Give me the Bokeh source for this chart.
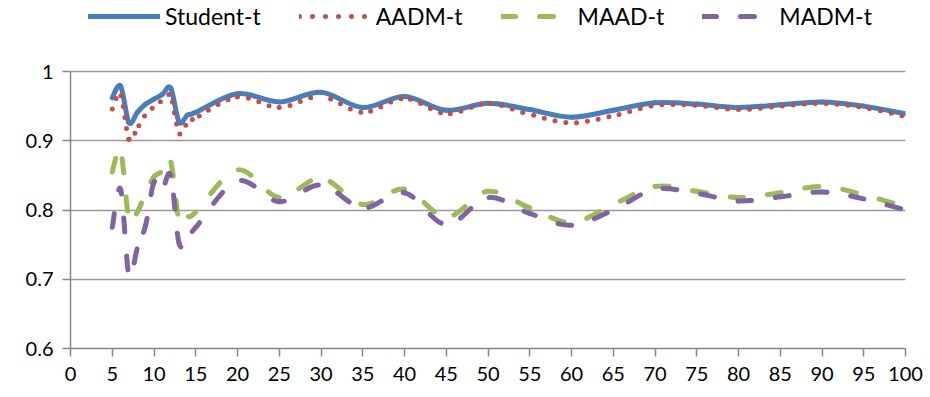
import numpy as np
from bokeh.plotting import figure
from bokeh.models import (Range1d, FixedTicker, NumeralTickFormatter, Legend,
                          LegendItem, ColumnDataSource)
from bokeh.embed import file_html
from bokeh.resources import INLINE

# ---- data ----
x = [5, 6, 7, 8, 9, 10, 11, 12, 13, 14, 15,
     20, 25, 30, 35, 40, 45, 50, 55, 60, 65, 70, 75, 80, 85, 90, 95, 100]
student_t = [0.962, 0.979, 0.926, 0.941, 0.953, 0.960, 0.967, 0.976, 0.927, 0.937, 0.941,
             0.968, 0.956, 0.970, 0.948, 0.964, 0.944, 0.954, 0.945, 0.934, 0.944,
             0.955, 0.953, 0.948, 0.952, 0.956, 0.950, 0.939]
aadm_t = [0.946, 0.966, 0.902, 0.918, 0.938, 0.949, 0.958, 0.964, 0.911, 0.926, 0.933,
          0.963, 0.948, 0.964, 0.941, 0.961, 0.939, 0.954, 0.938, 0.926, 0.936,
          0.951, 0.951, 0.945, 0.950, 0.954, 0.948, 0.935]
maad_t = [0.855, 0.885, 0.787, 0.797, 0.825, 0.848, 0.856, 0.870, 0.785, 0.790, 0.797,
          0.858, 0.818, 0.846, 0.808, 0.830, 0.790, 0.827, 0.803, 0.782, 0.808,
          0.834, 0.827, 0.818, 0.825, 0.834, 0.822, 0.804]
madm_t = [0.775, 0.830, 0.705, 0.745, 0.778, 0.840, 0.830, 0.850, 0.752, 0.760, 0.775,
          0.842, 0.812, 0.836, 0.803, 0.825, 0.779, 0.818, 0.795, 0.778, 0.800,
          0.830, 0.824, 0.813, 0.819, 0.826, 0.816, 0.800]
x_ticks = list(range(0, 101, 5))
y_ticks = [0.6, 0.7, 0.8, 0.9, 1.0]

W, H = 930, 397
BL, BR, BB = 70, 25, 49
TOP_1 = 71            # canvas row of the value 1.0
FONT = "Lato"

frame_h = H - BB
px_per_unit = (frame_h - TOP_1) / 0.4
y_top = 0.6 + frame_h / px_per_unit   # extra room above 1.0 holds the legend

p = figure(width=W, height=H, output_backend="svg", toolbar_location=None,
           x_range=Range1d(0, 100), y_range=Range1d(0.6, y_top),
           min_border_left=BL, min_border_right=BR, min_border_top=0,
           min_border_bottom=BB)
p.outline_line_color = None
p.background_fill_color = "white"
p.border_fill_color = "white"

# screen scales used only for dash continuity along smoothed segments
sx = (W - BL - BR) / 100.0
sy = px_per_unit


def smooth_source(xs, ys, period):
    P = np.column_stack([np.asarray(xs, float), np.asarray(ys, float)])
    n = len(P)
    d = dict(x0=[], y0=[], x1=[], y1=[], cx0=[], cy0=[], cx1=[], cy1=[], off=[])
    total = 0.0
    for i in range(n - 1):
        pp = P[i - 1] if i > 0 else P[i]
        pn = P[i + 2] if i + 2 < n else P[i + 1]
        c0 = P[i] + (P[i + 1] - pp) / 6.0
        c1 = P[i + 1] - (pn - P[i]) / 6.0
        d["x0"].append(P[i][0]); d["y0"].append(P[i][1])
        d["x1"].append(P[i + 1][0]); d["y1"].append(P[i + 1][1])
        d["cx0"].append(c0[0]); d["cy0"].append(c0[1])
        d["cx1"].append(c1[0]); d["cy1"].append(c1[1])
        d["off"].append(int(round(total % period)) if period else 0)
        pts = [P[i], c0, c1, P[i + 1]]
        scr = [np.array([q[0] * sx, q[1] * sy]) for q in pts]
        chord = np.linalg.norm(scr[3] - scr[0])
        poly = sum(np.linalg.norm(scr[k + 1] - scr[k]) for k in range(3))
        total += (chord + poly) / 2.0
    return ColumnDataSource(d)


series = [
    ("Student-t", student_t, "#4A7EBB", "solid", 0),
    ("AADM-t", aadm_t, "#C0504D", "0 11", 11),
    ("MAAD-t", maad_t, "#9BBB59", "14 24", 38),
    ("MADM-t", madm_t, "#8064A2", "14 24", 38),
]

items = []
for name, ys, color, dash, period in series:
    src = smooth_source(x, ys, period)
    kw = dict(line_color=color, line_width=5, line_cap="round", line_join="round")
    if dash != "solid":
        p.bezier(x0="x0", y0="y0", x1="x1", y1="y1", cx0="cx0", cy0="cy0",
                 cx1="cx1", cy1="cy1", source=src, line_dash=dash,
                 line_dash_offset="off", **kw)
    else:
        p.bezier(x0="x0", y0="y0", x1="x1", y1="y1", cx0="cx0", cy0="cy0",
                 cx1="cx1", cy1="cy1", source=src, **kw)
    # legend-only renderer (no drawable points)
    dummy = p.line(x=[float("nan")], y=[float("nan")],
                   line_dash=("0 13" if period == 11 else dash), **kw)
    items.append(LegendItem(label=name, renderers=[dummy]))

legend = Legend(items=items, orientation="horizontal",
                location=(18, frame_h - 30),
                padding=0, spacing=38, glyph_width=72, glyph_height=22,
                label_standoff=5, label_text_font=FONT,
                label_text_font_size="23px", label_text_color="#000000",
                background_fill_alpha=0, border_line_color=None,
                click_policy="none")
p.add_layout(legend)

# axes
for ax in (p.xaxis[0], p.yaxis[0]):
    ax.axis_line_color = "#868686"
    ax.axis_line_width = 1.5
    ax.major_tick_line_color = "#868686"
    ax.major_tick_line_width = 1.5
    ax.major_tick_out = 8
    ax.major_tick_in = 0
    ax.minor_tick_line_color = None
    ax.major_label_text_font = FONT
    ax.major_label_text_font_size = "20px"
    ax.major_label_text_color = "#000000"

p.xaxis.ticker = FixedTicker(ticks=x_ticks)
p.yaxis.ticker = FixedTicker(ticks=y_ticks)
p.yaxis.bounds = (0.6, 1.0)
p.yaxis.formatter = NumeralTickFormatter(format="0.[0]")
p.xaxis.major_label_standoff = 10
p.yaxis.major_label_standoff = 9

p.xgrid.visible = False
p.ygrid.grid_line_color = "#9a9a9a"
p.ygrid.grid_line_width = 1.5

open("out.html", "w").write(file_html(p, INLINE))
